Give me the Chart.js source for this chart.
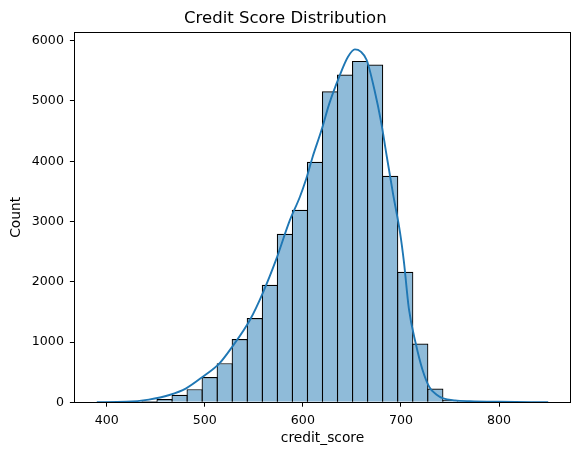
<!DOCTYPE html>
<html>
<head>
<meta charset="utf-8">
<script src="https://cdn.jsdelivr.net/npm/chart.js@4.4.0/dist/chart.umd.min.js"></script>
<style>
  body { margin: 0; background: #fff; }
  #wrap { width: 580px; height: 455px; }
</style>
</head>
<body>
<div id="wrap"><canvas id="myChart"></canvas></div>
<script>
const ctx = document.getElementById('myChart');

// histogram bins (30 bins, 390 -> 850)
const binEdges = [390, 405.3, 420.7, 436, 451.3, 466.7, 482, 497.3, 512.7, 528,
  543.3, 558.7, 574, 589.3, 604.7, 620, 635.3, 650.7, 666, 681.3,
  696.7, 712, 727.3, 742.7, 758, 773.3, 788.7, 804, 819.3, 834.7, 850];
const binCounts = [1, 3, 8, 22, 55, 125, 218, 420, 650, 1050,
  1400, 1950, 2795, 3195, 3990, 5160, 5440, 5665, 5605, 3760,
  2165, 975, 230, 40, 8, 3, 1, 1, 0, 1];

// kde curve
const kdeX = [390, 420, 443, 464, 481, 498, 515, 528, 546, 559, 573, 586, 597, 603,
  610, 619, 627, 637, 646, 653, 659, 665, 673, 680, 685, 692, 699, 703, 708,
  715, 722, 729, 736, 743, 755, 770, 800, 850];
const kdeY = [2, 8, 45, 121, 232, 425, 647, 922, 1366, 1809, 2380, 2990, 3411, 3688,
  4075, 4518, 4961, 5402, 5734, 5857, 5820, 5680, 5182, 4629, 4131, 3450, 2820, 2330, 1560,
  979, 536, 250, 130, 66, 32, 18, 8, 2];

const xTicks = [400, 500, 600, 700, 800];
const yTicks = [0, 1000, 2000, 3000, 4000, 5000, 6000];

const tickFont = { family: 'DejaVu Sans', size: 12.6 };
const labelFont = { family: 'DejaVu Sans', size: 13.8 };

const barData = binCounts.map((c, i) => ({ x: (binEdges[i] + binEdges[i + 1]) / 2, y: c }));
const kdeData = kdeX.map((x, i) => ({ x: x, y: kdeY[i] }));

// full box round the plot area, like matplotlib spines
const frame = {
  id: 'frame',
  afterDraw(chart) {
    const a = chart.chartArea, c = chart.ctx;
    c.save();
    c.strokeStyle = '#000';
    c.lineWidth = 1;
    c.strokeRect(Math.round(a.left) + 0.5, Math.round(a.top) + 0.5,
      Math.round(a.right - a.left), Math.round(a.bottom - a.top));
    c.restore();
  }
};

new Chart(ctx, {
  type: 'bar',
  data: {
    datasets: [{
      type: 'line',
      data: kdeData,
      borderColor: '#1f77b4',
      borderWidth: 1.9,
      pointRadius: 0,
      cubicInterpolationMode: 'monotone',
      order: 0
    }, {
      data: barData,
      backgroundColor: 'rgba(31, 119, 180, 0.5)',
      borderColor: '#000',
      borderWidth: 1.2,
      barPercentage: 1.08,
      categoryPercentage: 1,
      order: 1
    }]
  },
  options: {
    responsive: true,
    maintainAspectRatio: false,
    animation: false,
    layout: { padding: { top: 0, left: 0, right: 9.3, bottom: 0 } },
    plugins: {
      legend: { display: false },
      tooltip: { enabled: false },
      title: {
        display: true,
        text: 'Credit Score Distribution',
        color: '#000',
        font: { family: 'DejaVu Sans', size: 16.5, weight: 'normal' },
        padding: { top: 8.6, bottom: 3.9 }
      }
    },
    scales: {
      x: {
        type: 'linear',
        min: 367,
        max: 873,
        offset: false,
        grid: { offset: false, drawOnChartArea: false, tickLength: 4.4, color: '#000' },
        border: { display: false },
        ticks: { color: '#000', font: tickFont, padding: 6, maxRotation: 0, callback: v => String(v) },
        title: { display: true, text: 'credit_score', color: '#000', font: labelFont, padding: { top: 0, bottom: 8.7 } },
        afterBuildTicks: s => { s.ticks = xTicks.map(v => ({ value: v })); },
        afterFit: s => { s.height = 52.7; }
      },
      y: {
        min: 0,
        max: 6140,
        grid: { drawOnChartArea: false, tickLength: 4.4, color: '#000' },
        border: { display: false },
        ticks: { color: '#000', font: tickFont, padding: 6, callback: v => String(v) },
        title: { display: true, text: 'Count', color: '#000', font: labelFont, padding: { top: 8.2, bottom: 0 } },
        afterBuildTicks: s => { s.ticks = yTicks.map(v => ({ value: v })); },
        afterFit: s => { s.width = 74.3; }
      }
    }
  },
  plugins: [frame]
});
</script>
</body>
</html>
